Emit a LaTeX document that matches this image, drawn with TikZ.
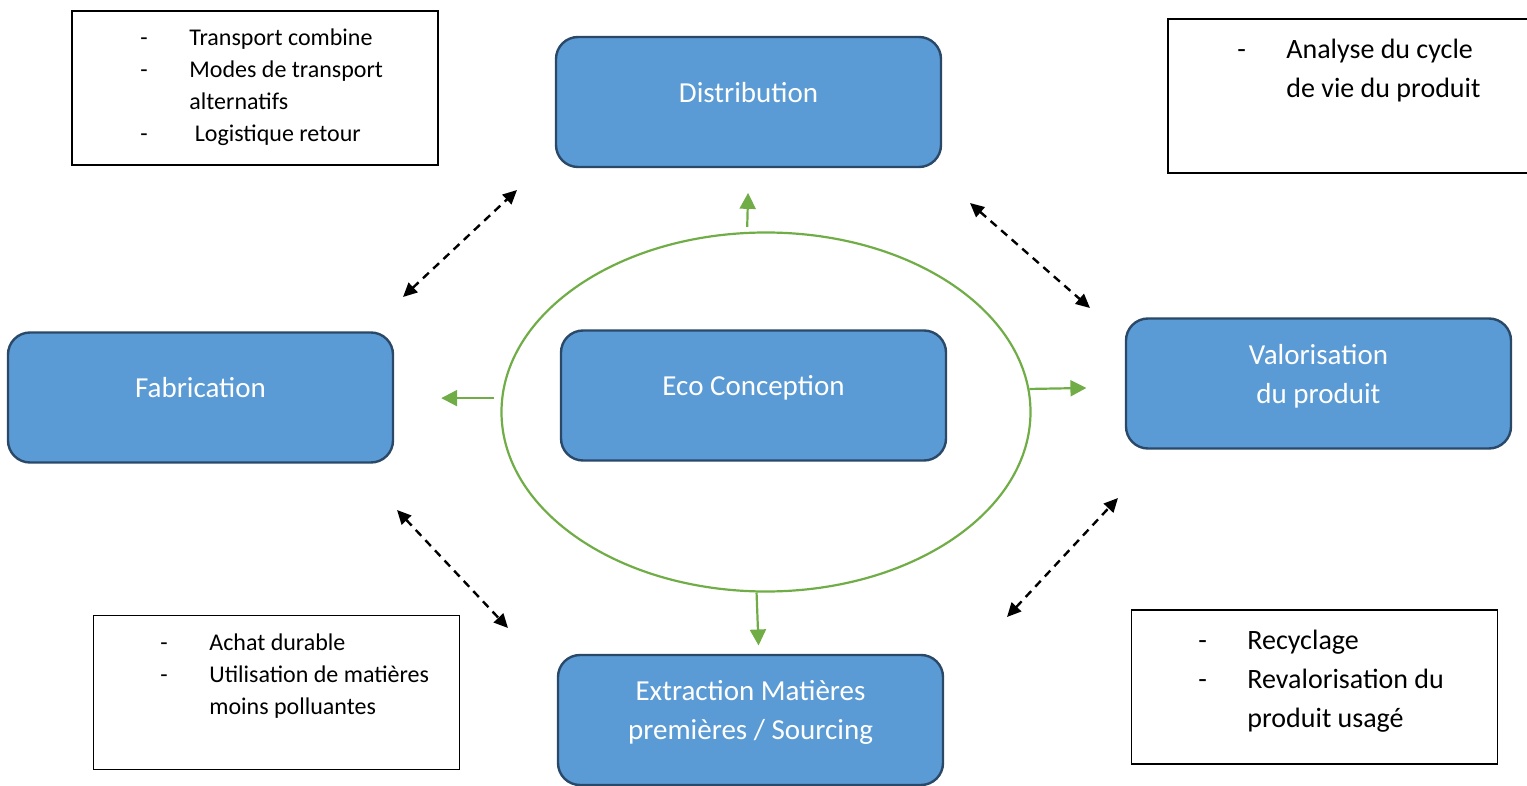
\documentclass[tikz,border=0pt]{standalone}
\usepackage{fontspec}
\setmainfont{Carlito}
\usetikzlibrary{arrows.meta,shapes.geometric}
\definecolor{stagefill}{HTML}{5B9BD5}
\definecolor{stageline}{HTML}{2A4868}
\definecolor{ecogreen}{HTML}{70AD47}
\newcommand{\itemdash}{\makebox[24.5pt][l]{-}}
\newcommand{\itemgap}{\hspace*{24.5pt}}
\tikzset{
  stage/.style={draw=stageline, line width=1.2pt, fill=stagefill, rounded corners=11pt,
    minimum width=192.5pt, minimum height=65pt, text=white, align=center,
    font=\fontsize{14.5}{19.5}\selectfont, text depth=10pt},
  notebox/.style={draw, line width=0.8pt, minimum width=183pt, minimum height=77pt, inner sep=0pt},
  notetext/.style={anchor=north west, inner sep=0pt, align=left},
  smallnote/.style={notetext, font=\fontsize{12}{16}\selectfont},
  largenote/.style={notetext, font=\fontsize{14}{19.3}\selectfont},
  greenarrow/.style={draw=ecogreen, line width=1.1pt, -{Triangle[length=8pt,width=8pt]}},
  linkarrow/.style={line width=1.2pt, dash pattern=on 4pt off 3pt,
    {Triangle[length=7pt,width=6.5pt]}-{Triangle[length=7pt,width=6.5pt]}}
}
\begin{document}
\begin{tikzpicture}[x=0.5pt, y=-0.5pt]
  \clip (0,0) rectangle (1527,786);

  % cycle stages
  \node[stage] (distrib) at (748.5,102) {Distribution};
  \node[stage] (fab) at (200.5,397.5) {Fabrication};
  \node[stage] (eco) at (753.5,395.5) {Eco Conception};
  \node[stage] (valor) at (1318.5,383.5) {Valorisation\\du produit};
  \node[stage] (extract) at (750.5,720) {Extraction Matières\\premières / Sourcing};

  % ring round the centre
  \node[draw=ecogreen, line width=1.1pt, ellipse, inner sep=0pt,
    minimum width=264.5pt, minimum height=179.5pt] (ring) at (766,412) {};
  \draw[greenarrow, shorten <=2.5pt] (ring.96) -- ++(1,-39);
  \draw[greenarrow, shorten <=3.5pt] (ring.177) -- ++(-60,0);
  \draw[greenarrow] (ring.5) -- ++(57,-1);
  \draw[greenarrow] (ring.267) -- ++(2,53);

  % links between the stages
  \coordinate (fab-up) at (403,297);
  \coordinate (dist-left) at (517,190);
  \coordinate (dist-right) at (970,203);
  \coordinate (val-up) at (1090,308);
  \coordinate (fab-down) at (397,510);
  \coordinate (ext-left) at (508,628);
  \coordinate (ext-right) at (1007,617);
  \coordinate (val-down) at (1118,498);
  \draw[linkarrow] (fab-up) -- (dist-left);
  \draw[linkarrow] (dist-right) -- (val-up);
  \draw[linkarrow] (fab-down) -- (ext-left);
  \draw[linkarrow] (ext-right) -- (val-down);

  % side notes
  \node[notebox] (note-dist) at (255,88) {};
  \node[smallnote] (txt-dist) at (140,28) {\itemdash Transport combine\\
    \itemdash Modes de transport\\ \itemgap alternatifs\\ \itemdash{} Logistique retour};
  \node[notebox] (note-acv) at (1351,96) {};
  \node[largenote] (txt-acv) at (1237,39) {\itemdash Analyse du cycle\\ \itemgap de vie du produit};
  \node[notebox] (note-achat) at (276.5,692.5) {};
  \node[smallnote] (txt-achat) at (160,633) {\itemdash Achat durable\\
    \itemdash Utilisation de matières\\ \itemgap moins polluantes};
  \node[notebox] (note-recyc) at (1314.5,687) {};
  \node[largenote] (txt-recyc) at (1198,630) {\itemdash Recyclage\\
    \itemdash Revalorisation du\\ \itemgap produit usagé};
\end{tikzpicture}
\end{document}
